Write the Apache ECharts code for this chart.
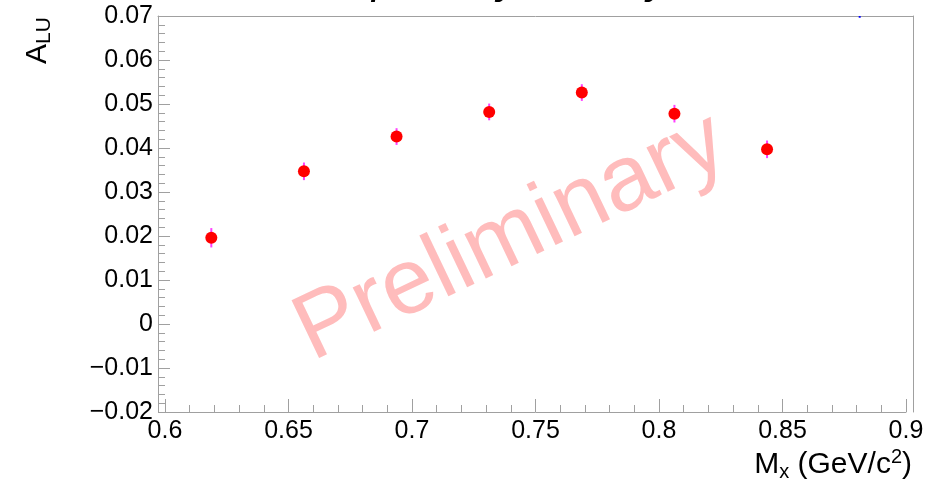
<!DOCTYPE html>
<html>
<head>
<meta charset="utf-8">
<script src="https://cdn.jsdelivr.net/npm/echarts@6/dist/echarts.min.js"></script>
<style>
  html, body { margin: 0; padding: 0; background: #ffffff; }
  #chart { width: 932px; height: 485px; }
</style>
</head>
<body>
<div id="chart"></div>
<script>
// Beam-spin asymmetry A_LU versus missing mass M_x
const binCenters = [0.61875, 0.65625, 0.69375, 0.73125, 0.76875, 0.80625, 0.84375];
const aluValues  = [0.0196, 0.0347, 0.0426, 0.0482, 0.0526, 0.0478, 0.0397];
const aluErrors  = [0.0022, 0.0020, 0.0019, 0.0019, 0.0019, 0.0020, 0.0020];

// last bin lies above the displayed range; only the bottom of its error bar shows
const highBinCenter = [0.88125];
const highBinValue  = [0.081];
const highBinError  = [0.0114];

const xRange = [0.6, 0.9];
const xStep = 0.05;
const yRange = [-0.02, 0.07];
const yStep = 0.01;

const FONT = '"Liberation Sans", Arial, sans-serif';
const AXIS_GREY = '#a0a0a0';

const mainPoints = binCenters.map((x, i) => [x, aluValues[i], aluErrors[i]]);
const highPoints = highBinCenter.map((x, i) => [x, highBinValue[i], highBinError[i]]);

function errorBarRenderer(color) {
  return function (params, api) {
    const x = api.value(0), y = api.value(1), e = api.value(2);
    if (y - e > yRange[1] || y + e < yRange[0]) return null;
    const top = api.coord([x, Math.min(y + e, yRange[1])]);
    const bot = api.coord([x, Math.max(y - e, yRange[0])]);
    return {
      type: 'line',
      shape: { x1: top[0], y1: top[1], x2: bot[0], y2: bot[1] },
      style: { stroke: color, lineWidth: 2 }
    };
  };
}

const minus = v => String(v).replace('-', '\u2212');

const chart = echarts.init(document.getElementById('chart'), null, { renderer: 'canvas' });

chart.setOption({
  animation: false,
  backgroundColor: '#ffffff',
  grid: [
    { left: 165, right: 26, top: 16, bottom: 73 },   // data area
    { left: 158, right: 19, top: 16, bottom: 73 }    // surrounding frame
  ],
  xAxis: [
    {
      gridIndex: 0, type: 'value', min: xRange[0], max: xRange[1], interval: xStep,
      axisLine: { show: true, onZero: false, lineStyle: { color: AXIS_GREY, width: 1 } },
      axisTick: { show: true, inside: true, length: 13, lineStyle: { color: AXIS_GREY } },
      minorTick: { show: true, splitNumber: 5, length: 7, lineStyle: { color: AXIS_GREY } },
      splitLine: { show: false },
      axisLabel: { color: '#000', fontFamily: FONT, fontSize: 25, margin: 7, formatter: minus }
    },
    {
      gridIndex: 1, type: 'value', position: 'top', min: 0, max: 1,
      axisLine: { show: true, onZero: false, lineStyle: { color: AXIS_GREY } },
      axisTick: { show: false }, axisLabel: { show: false }, splitLine: { show: false }
    }
  ],
  yAxis: [
    {
      gridIndex: 0, type: 'value', min: yRange[0], max: yRange[1], interval: yStep, offset: 7,
      axisLine: { show: true, onZero: false, lineStyle: { color: AXIS_GREY, width: 1 } },
      axisTick: { show: true, inside: true, length: 12, lineStyle: { color: AXIS_GREY } },
      minorTick: { show: true, splitNumber: 5, length: 7, lineStyle: { color: AXIS_GREY } },
      splitLine: { show: false },
      axisLabel: { color: '#000', fontFamily: FONT, fontSize: 25, margin: 5, formatter: minus }
    },
    {
      gridIndex: 1, type: 'value', position: 'right', min: 0, max: 1,
      axisLine: { show: true, onZero: false, lineStyle: { color: AXIS_GREY } },
      axisTick: { show: false }, axisLabel: { show: false }, splitLine: { show: false }
    }
  ],
  graphic: [
    {
      type: 'text', left: 212, top: -42, silent: true,
      style: { text: 'Beam Spin Asymmetry', font: 'italic 45px ' + FONT, fill: '#000' }
    },
    {
      type: 'text', x: 511, y: 238, rotation: 25.5 * Math.PI / 180, silent: true, z: 0,
      style: {
        text: 'Preliminary', font: '93px ' + FONT, fill: '#ffbcbc',
        align: 'center', verticalAlign: 'middle'
      }
    },
    {
      type: 'text', x: 20, y: 64, rotation: Math.PI / 2, silent: true,
      style: {
        text: '{a|A}{s|LU}', fill: '#000',
        rich: {
          a: { fontFamily: FONT, fontSize: 30, fill: '#000' },
          s: { fontFamily: FONT, fontSize: 21, fill: '#000', padding: [14, 0, 0, 0] }
        }
      }
    },
    {
      type: 'text', right: 20, top: 447, silent: true,
      style: {
        text: '{a|M}{s|x}{a| (GeV/c}{p|2}{a|)}', fill: '#000',
        rich: {
          a: { fontFamily: FONT, fontSize: 30, fill: '#000' },
          s: { fontFamily: FONT, fontSize: 20, fill: '#000', padding: [15, 0, 0, 0] },
          p: { fontFamily: FONT, fontSize: 20, fill: '#000', padding: [0, 0, 15, 0] }
        }
      }
    }
  ],
  series: [
    {
      type: 'custom', xAxisIndex: 0, yAxisIndex: 0, z: 3,
      renderItem: errorBarRenderer('#ff40ff'),
      data: mainPoints
    },
    {
      type: 'scatter', xAxisIndex: 0, yAxisIndex: 0, z: 4,
      symbol: 'circle', symbolSize: 12,
      itemStyle: { color: '#ff0000', opacity: 1 },
      data: mainPoints.map(p => [p[0], p[1]])
    },
    {
      type: 'custom', xAxisIndex: 0, yAxisIndex: 0, z: 3,
      renderItem: errorBarRenderer('#0000ff'),
      data: highPoints
    }
  ]
});
</script>
</body>
</html>
